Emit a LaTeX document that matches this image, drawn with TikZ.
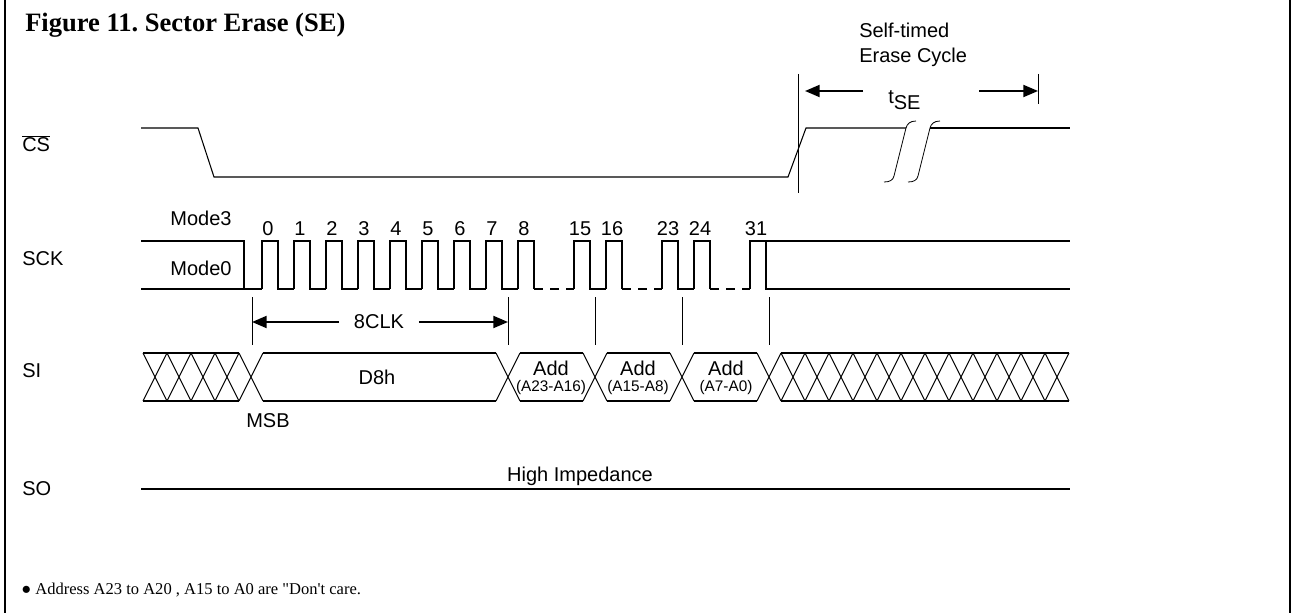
\documentclass[tikz,border=0pt]{standalone}
\usepackage{fontspec}
\setmainfont{Liberation Serif}
\setsansfont{Liberation Sans}
\newfontfamily\notefont{Liberation Serif}
\usetikzlibrary{arrows.meta}
\frenchspacing
\tikzset{
  wave/.style={line width=0.8pt},
  guide/.style={line width=0.6pt},
  sigtext/.style={
    font=\sffamily\fontsize{15}{18.75}\selectfont,
    inner sep=0pt
  },
  subtext/.style={
    font=\sffamily\fontsize{11.5}{13}\selectfont,
    inner sep=0pt
  },
  arrow/.style={-{Triangle[length=11pt,width=9pt]}, line width=1.4pt}
}

\begin{document}
\begin{tikzpicture}[x=0.75pt, y=-0.75pt]
  \useasboundingbox (0,0) rectangle (1292,613);
  % frame
  \draw[line width=0.9pt] (5,0) -- (5,613) (1290,0) -- (1290,613);
  \node[font=\bfseries\fontsize{19.9}{22}\selectfont, anchor=base west, inner sep=0pt] (title) at (25,32) {Figure 11. Sector Erase (SE)};

  % signal names
  \node[sigtext, anchor=base west] (lblcs) at (22,152) {$\overline{\hbox{CS}}$};
  \node[sigtext, anchor=base west] (lblsck) at (22,265) {SCK};
  \node[sigtext, anchor=base west] (lblsi) at (22,377) {SI};
  \node[sigtext, anchor=base west] (lblso) at (22,495) {SO};

  % CS
  \draw[wave] (141,128) -- (198,128) -- (214,177) -- (788,177) -- (806,128) -- (906,128);
  \draw[wave] (930,128) -- (1070,128);
  \foreach \s in {0,24}
    \draw[guide, xshift=\s*0.75pt] (884,182) .. controls (890,182) and (893,180) .. (894,176)
      -- (906,128) .. controls (907,124) and (910,121) .. (916,121);
  \draw[guide] (798,74) -- (798,193);
  \draw[guide] (1038,74) -- (1038,104);
  \node[sigtext, anchor=north west, align=left] (selftimed) at (859,23) {Self-timed\\Erase Cycle};
  \node[sigtext, anchor=base west] (tse) at (888,104) {t\raisebox{-4pt}{SE}};
  \coordinate (tseL) at (863,91);
  \coordinate (tseR) at (979,91);
  \coordinate (tseLend) at (805,91);
  \coordinate (tseRend) at (1038,91);
  \draw[arrow] (tseL) -- (tseLend);
  \draw[arrow] (tseR) -- (tseRend);

  % SCK
  \node[sigtext, anchor=base] (mode3) at (201,225) {Mode3};
  \node[sigtext, anchor=base] (mode0) at (201,275) {Mode0};
  \draw[wave] (141,241) -- (244,241) -- (244,289);
  \draw[wave] (141,289) -- (262,289);
  \foreach \r in {262,294,...,486,574,662}
    \draw[wave] (\r,289) -- (\r,241) -- ++(16,0) -- ++(0,48) -- ++(16,0);
  \foreach \r in {518,606,694} {
    \draw[wave] (\r,289) -- (\r,241) -- ++(16,0) -- ++(0,48);
    \draw[wave, dash pattern=on 6.75pt off 5.25pt] ({\r+16},289) -- ++(40,0);
  }
  \draw[wave] (750,289) -- (750,241) -- (1070,241);
  \draw[wave] (766,241) -- (766,289) -- (1070,289);
  \foreach \r/\n in {262/0,294/1,326/2,358/3,390/4,422/5,454/6,486/7,518/8,574/15,606/16,662/23,694/24,750/31}
    \node[sigtext, anchor=base] (clk\n) at ({\r+6},235) {\n};

  % clock count
  \foreach \x in {252,508,595,682,769}
    \draw[guide] (\x,297) -- (\x,345);
  \coordinate (clkL) at (252,322);
  \coordinate (clkR) at (508,322);
  \node[sigtext, inner xsep=11pt] (clklen) at (379,322) {8CLK};
  \draw[arrow] (clklen) -- (clkL);
  \draw[arrow] (clklen) -- (clkR);

  % SI
  \foreach \a in {143,167,191,215,239,496,583,670,757,781,805,...,1045}
    \draw[wave] (\a,353) -- ({\a+24},401) (\a,401) -- ({\a+24},353);
  \foreach \a/\b in {143/239,263/496,520/583,607/670,694/757,781/1069}
    \draw[wave] (\a,353) -- (\b,353) (\a,401) -- (\b,401);
  \node[sigtext] (d8h) at (377,377) {D8h};
  \node[sigtext] (add1) at (551,368) {Add};
  \node[subtext] (addr1) at (551,388) {(A23-A16)};
  \node[sigtext] (add2) at (638,368) {Add};
  \node[subtext] (addr2) at (638,388) {(A15-A8)};
  \node[sigtext] (add3) at (726,368) {Add};
  \node[subtext] (addr3) at (726,388) {(A7-A0)};
  \node[sigtext] (msb) at (268,421) {MSB};

  % SO
  \draw[wave] (141,489) -- (1070,489);
  \node[sigtext, anchor=base] (hiz) at (580,481) {High Impedance};

  \node[font=\notefont\fontsize{12.4}{15}\selectfont, anchor=base west, inner sep=0pt] (note) at (21,594) {● Address A23 to A20 , A15 to A0 are "Don't care.};
\end{tikzpicture}
\end{document}
